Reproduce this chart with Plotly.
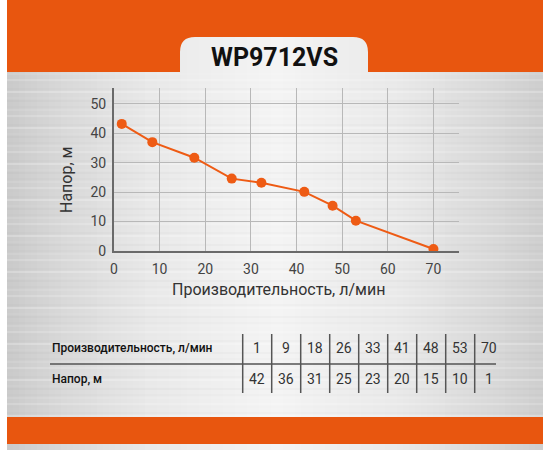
import plotly.graph_objects as go

# curve points as drawn on the chart
flow_pts = [1.7, 8.4, 17.6, 25.8, 32.3, 41.7, 47.9, 53.0, 70.0]
head_pts = [43.2, 37.0, 31.7, 24.6, 23.2, 20.1, 15.4, 10.3, 0.7]

# table under the chart
flow_table = [1, 9, 18, 26, 33, 41, 48, 53, 70]
head_table = [42, 36, 31, 25, 23, 20, 15, 10, 1]
row_labels = ['Производительность, л/мин', 'Напор, м']

x_ticks = [0, 10, 20, 30, 40, 50, 60, 70]
y_ticks = [0, 10, 20, 30, 40, 50]

title = 'WP9712VS'
x_title = 'Производительность, л/мин'
y_title = 'Напор, м'

ORANGE = '#E8560F'
LINE = '#EE5B14'
FONT = 'Roboto'

W, H = 550, 450
PL, PR, PT, PB = 114, 459, 88, 251  # plot box in pixels


def px(x):
    return (x - PL) / (PR - PL)


def py(y):
    return (PB - y) / (PB - PT)


def gray(v):
    v = int(round(v))
    return f'rgb({v},{v},{v})'


def note(text, x, y, size, color, **kw):
    d = dict(text=text, x=px(x), y=py(y), xref='paper', yref='paper',
             xanchor='center', yanchor='middle', showarrow=False,
             font=dict(family=FONT, size=size, color=color))
    d.update(kw)
    return d


shapes = []

# brushed-metal panel: horizontal light gradient
stops_x = [7, 60, 150, 275, 400, 490, 543]
stops_v = [202, 216, 233, 244, 233, 217, 206]
step = 6
x = 7
while x < 543:
    xc = x + step / 2
    for i in range(len(stops_x) - 1):
        if stops_x[i] <= xc <= stops_x[i + 1]:
            t = (xc - stops_x[i]) / (stops_x[i + 1] - stops_x[i])
            v = stops_v[i] + t * (stops_v[i + 1] - stops_v[i])
            break
    shapes.append(dict(type='rect', xref='paper', yref='paper', layer='below',
                       x0=px(x), x1=px(min(x + step + 0.5, 543)), y0=py(450), y1=py(0),
                       fillcolor=gray(v), line_width=0))
    x += step

# faint horizontal streaks
streak = [0.05, 0.0, 0.09, 0.02, 0.0, 0.06, 0.12, 0.0, 0.03, 0.07, 0.0, 0.04]
k = 0
for yy in range(74, 445, 3):
    a = streak[k % len(streak)]
    k += 1
    if a == 0:
        continue
    shapes.append(dict(type='line', xref='paper', yref='paper', layer='below',
                       x0=px(7), x1=px(543), y0=py(yy), y1=py(yy),
                       line=dict(color=f'rgba(255,255,255,{a * 4:.2f})' if k % 2 else f'rgba(120,120,120,{a:.2f})', width=1)))

# top orange band with the rounded tab cut out
tl, tr, tt, tb, r = 180, 368, 37, 72, 15
path = (f'M {px(7)},{py(0)} L {px(543)},{py(0)} L {px(543)},{py(tb)} '
        f'L {px(tr)},{py(tb)} L {px(tr)},{py(tt + r)} Q {px(tr)},{py(tt)} {px(tr - r)},{py(tt)} '
        f'L {px(tl + r)},{py(tt)} Q {px(tl)},{py(tt)} {px(tl)},{py(tt + r)} '
        f'L {px(tl)},{py(tb)} L {px(7)},{py(tb)} Z')
shapes.append(dict(type='path', xref='paper', yref='paper', layer='below',
                   path=path, fillcolor=ORANGE, line_width=0))

# bottom orange band
shapes.append(dict(type='rect', xref='paper', yref='paper', layer='below',
                   x0=px(7), x1=px(543), y0=py(444), y1=py(417),
                   fillcolor=ORANGE, line_width=0))

# table lines
col0, colw = 242.7, 29.0
row1_y, row2_y, sep_y = 348, 379, 364
shapes.append(dict(type='line', xref='paper', yref='paper',
                   x0=px(50), x1=px(496), y0=py(sep_y), y1=py(sep_y),
                   line=dict(color='#555555', width=1.5)))
for i in range(len(flow_table)):
    xl = col0 + i * colw
    shapes.append(dict(type='line', xref='paper', yref='paper',
                       x0=px(xl), x1=px(xl), y0=py(334), y1=py(393),
                       line=dict(color='#555555', width=1.5)))

annotations = [
    note(f'<b>{title}</b>', 274, 57, 25, '#111111'),
    note(x_title, 278, 289, 16, '#333333'),
    note(y_title, 66, 180, 16, '#333333', textangle=-90),
]
for label, yy in zip(row_labels, [row1_y, row2_y]):
    a = note(label, 50, yy, 12, '#111111', xanchor='left')
    a['font']['weight'] = 500
    annotations.append(a)
for i, (f, h) in enumerate(zip(flow_table, head_table)):
    xc = col0 + i * colw + colw / 2
    annotations.append(note(str(f), xc, row1_y, 14, '#333333'))
    annotations.append(note(str(h), xc, row2_y, 14, '#333333'))

fig = go.Figure()
fig.add_trace(go.Scatter(
    x=flow_pts, y=head_pts, mode='lines+markers',
    line=dict(color=LINE, width=2),
    marker=dict(color=LINE, size=10),
    hoverinfo='x+y', showlegend=False,
))

fig.update_layout(
    width=W, height=H, autosize=False,
    margin=dict(l=PL, r=W - PR, t=PT, b=H - PB, pad=0),
    paper_bgcolor='white',
    plot_bgcolor='rgba(0,0,0,0)',
    font=dict(family=FONT, color='#444444'),
    shapes=shapes,
    annotations=annotations,
    xaxis=dict(range=[0, 75.6], tickvals=x_ticks, showgrid=True, gridcolor='#b8b8b8',
               gridwidth=1, zeroline=False, showline=True, linecolor='#6a6a6a', linewidth=2,
               ticks='outside', ticklen=4, tickcolor='rgba(0,0,0,0)',
               tickfont=dict(size=14, color='#444444')),
    yaxis=dict(range=[0, 55.4], tickvals=y_ticks, showgrid=True, gridcolor='#b8b8b8',
               gridwidth=1, zeroline=False, showline=True, linecolor='#6a6a6a', linewidth=2,
               ticks='outside', ticklen=3, tickcolor='rgba(0,0,0,0)',
               tickfont=dict(size=14, color='#444444')),
)

fig.write_html('out.html', config={'displayModeBar': False},
               post_script="document.body.style.margin='0';")
